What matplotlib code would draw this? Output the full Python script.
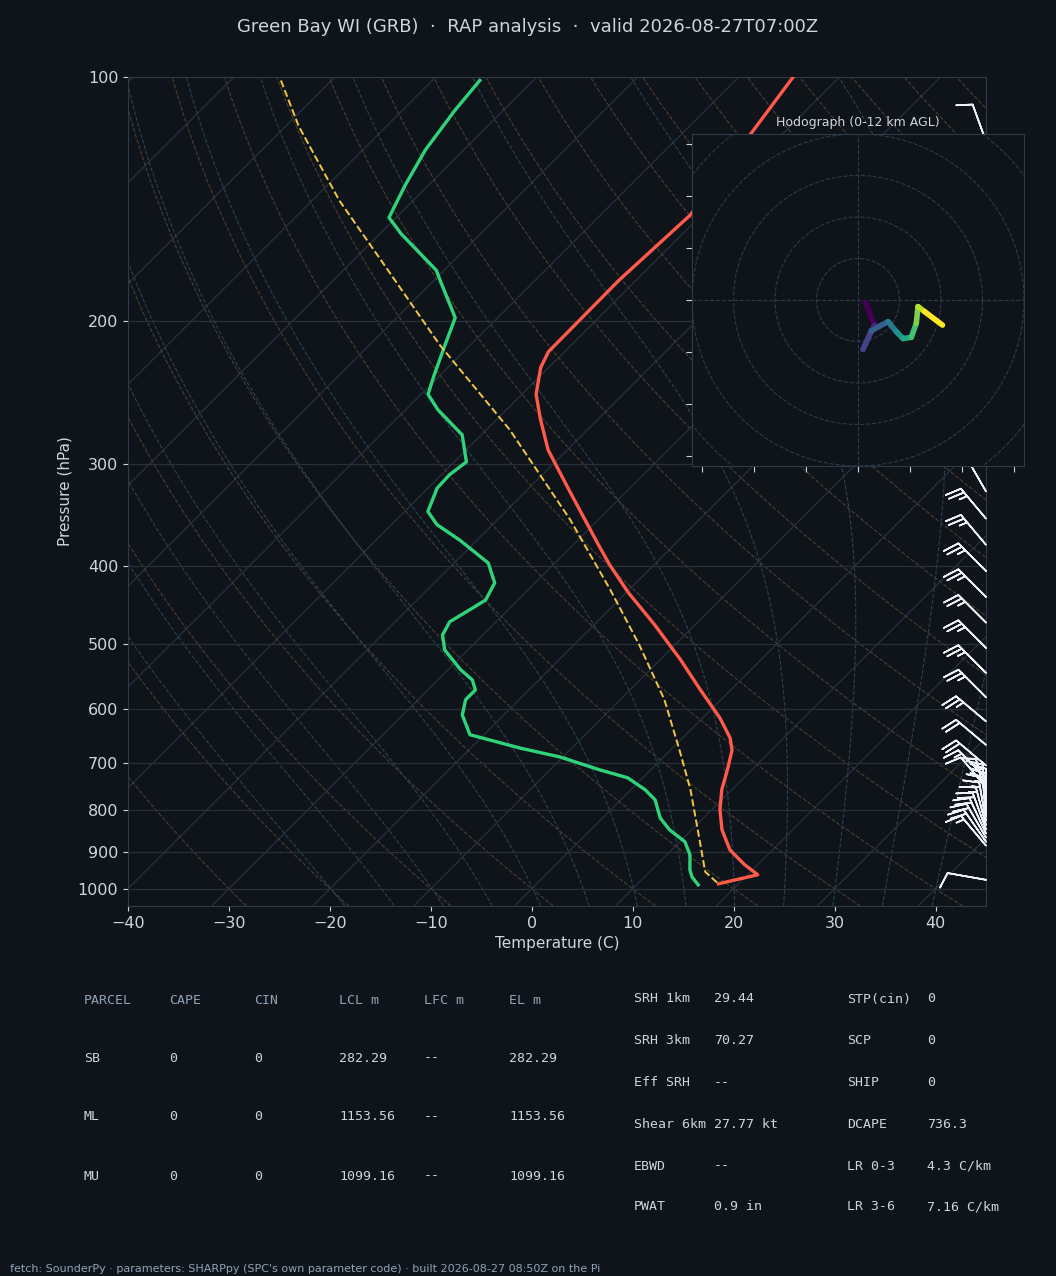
import numpy as np
import matplotlib.pyplot as plt
from matplotlib.collections import LineCollection
from matplotlib.ticker import FixedLocator, NullFormatter, NullLocator

BG = "#0f141a"
FG = "#d0d5dc"
MUTED = "#8fa3b8"
SKEW = 80.5  # deg C shift per decade of pressure

# sounding (pressure hPa, temperature C)
p_t = [100, 148, 178, 218, 228, 246, 264, 288, 323, 377, 399, 431, 473, 522, 569,
       616, 652, 675, 714, 755, 799, 846, 896, 934, 961, 986]
temp = [-54.6, -51.1, -51.7, -51.6, -50.8, -48.6, -45.7, -41.9, -35.8, -27.5, -24.4,
        -19.9, -14.0, -8.0, -3.0, 1.7, 4.7, 6.1, 7.6, 9.0, 10.8, 13.0, 15.8, 18.7, 21.0, 18.0]
p_d = [101, 110, 123, 136, 149, 156, 173, 184, 198, 214, 233, 246, 257, 276, 298, 309,
       321, 343, 356, 372, 397, 420, 441, 453, 469, 487, 508, 537, 553, 569, 585, 611,
       646, 671, 688, 714, 730, 755, 777, 818, 846, 875, 908, 948, 967, 989]
dewp = [-85.3, -84.8, -83.8, -82.3, -80.7, -77.9, -70.8, -67.8, -64.2, -62.5, -60.6,
        -59.3, -56.8, -51.9, -48.8, -49.2, -49.1, -47.7, -45.5, -41.7, -36.6, -34.0,
        -33.2, -33.8, -34.6, -34.0, -32.3, -28.8, -26.6, -25.3, -25.3, -24.1, -21.4,
        -15.1, -10.3, -5.0, -1.5, 1.4, 3.4, 5.7, 7.8, 10.5, 12.3, 13.8, 14.7, 16.1]
p_parcel = [101, 115, 142, 175, 214, 272, 351, 428, 501, 585, 675, 755, 871, 953, 986]
t_parcel = [-105.0, -98.7, -87.3, -74.9, -63.0, -47.7, -32.8, -21.9, -13.5, -5.6,
            0.9, 5.9, 11.8, 15.5, 18.0]

# wind barbs (pressure, direction from, speed kt)
p_wind = [120, 300, 324, 350, 377, 406, 437, 470, 505, 542, 581, 622, 665, 705,
          730, 750, 770, 785, 795, 805, 815, 825, 835, 845, 855, 865, 875, 885, 975]
wdir = [340, 330, 330, 320, 320, 315, 315, 315, 315, 315, 315, 310, 310, 310,
        315, 320, 345, 355, 360, 360, 355, 350, 345, 340, 335, 330, 325, 320, 280]
wspd = [10, 20, 20, 25, 25, 25, 25, 25, 25, 25, 25, 25, 20, 20,
        15, 10, 10, 15, 20, 20, 15, 15, 15, 20, 20, 20, 20, 15, 10]

# hodograph (u, v kt)
hodo_u = [3.5, 8.0, 2.4, 6.4, 14.5, 18.5, 21.7, 25.7, 28.1, 28.9, 32.1, 40.7]
hodo_v = [-1.1, -12.1, -23.8, -14.8, -10.4, -15.3, -18.6, -18.0, -11.2, -3.2, -5.6, -12.1]

# parameter table
parcel_head = ["PARCEL", "CAPE", "CIN", "LCL m", "LFC m", "EL m"]
parcel_rows = [["SB", "0", "0", "282.29", "--", "282.29"],
               ["ML", "0", "0", "1153.56", "--", "1153.56"],
               ["MU", "0", "0", "1099.16", "--", "1099.16"]]
param_a = [("SRH 1km", "29.44"), ("SRH 3km", "70.27"), ("Eff SRH", "--"),
           ("Shear 6km", "27.77 kt"), ("EBWD", "--"), ("PWAT", "0.9 in")]
param_b = [("STP(cin)", "0"), ("SCP", "0"), ("SHIP", "0"),
           ("DCAPE", "736.3"), ("LR 0-3", "4.3 C/km"), ("LR 3-6", "7.16 C/km")]


def sk(t, p):
    return np.asarray(t) + SKEW * np.log10(1000.0 / np.asarray(p))


def moist_adiabat(t0, pres):
    # pseudo-adiabat integrated from 1000 hPa
    out = [t0]
    t = t0 + 273.15
    for i in range(1, len(pres)):
        p = pres[i - 1]
        es = 6.112 * np.exp(17.67 * (t - 273.15) / (t - 29.65))
        rs = 0.622 * es / (p - es)
        lv = 2.5e6
        num = 287.0 * t + lv * rs
        den = 1004.0 + lv * lv * rs * 0.622 / (287.0 * t * t)
        t += num / den / p * (pres[i] - p)
        out.append(t - 273.15)
    return np.array(out)


fig = plt.figure(figsize=(10.56, 12.76), dpi=100, facecolor=BG)
ax = fig.add_axes([0.1212, 0.29, 0.8125, 0.6497], facecolor=BG)
ax.set_yscale("log")
ax.set_ylim(1050, 100)
ax.set_xlim(-40, 45)

pp = np.logspace(np.log10(1050), 2, 120)
for t0 in range(-120, 60, 10):
    ax.plot(sk(np.full_like(pp, t0), pp), pp, color="#2a3440", lw=0.8, zorder=1)
for th in range(-30, 200, 10):
    tt = (th + 273.15) * (pp / 1000.0) ** 0.2857 - 273.15
    ax.plot(sk(tt, pp), pp, color="#4a3f2e", lw=0.8, ls="--", zorder=1)
pm = np.linspace(1050, 100, 200)
for t0 in range(-20, 45, 5):
    tm = moist_adiabat(t0, np.concatenate([[1000.0], pm]))[1:]
    ax.plot(sk(tm, pm), pm, color="#28444c", lw=0.8, ls="--", zorder=1)
for p0 in [100, 200, 300, 400, 500, 600, 700, 800, 900, 1000]:
    ax.axhline(p0, color="#27303b", lw=0.9, zorder=1)

ax.plot(sk(temp, p_t), p_t, color="#ff5a4a", lw=2.4, zorder=4)
ax.plot(sk(dewp, p_d), p_d, color="#2fd47a", lw=2.4, zorder=4)
ax.plot(sk(t_parcel, p_parcel), p_parcel, color="#f2c744", lw=1.4, ls="--", zorder=4)

wd = np.deg2rad(wdir)
ub = -np.array(wspd) * np.sin(wd)
vb = -np.array(wspd) * np.cos(wd)
ax.barbs(np.full(len(p_wind), 45.0), p_wind, ub, vb, color="#eef2f6", length=7.5,
         lw=1.2, zorder=5, clip_on=False, flip_barb=True)

ax.yaxis.set_major_locator(FixedLocator([100, 200, 300, 400, 500, 600, 700, 800, 900, 1000]))
ax.yaxis.set_major_formatter(plt.FixedFormatter(["100", "200", "300", "400", "500",
                                                  "600", "700", "800", "900", "1000"]))
ax.yaxis.set_minor_locator(NullLocator())
ax.set_xticks(range(-40, 45, 10))
ax.tick_params(colors=FG, labelsize=11.5)
for s in ax.spines.values():
    s.set_color("#2f3a48")
ax.set_xlabel("Temperature (C)", color=FG, fontsize=11)
ax.set_ylabel("Pressure (hPa)", color=FG, fontsize=11)

fig.text(0.5, 0.979, "Green Bay WI (GRB)  \u00b7  RAP analysis  \u00b7  valid 2026-08-27T07:00Z",
         ha="center", va="center", color=FG, fontsize=13)

# hodograph inset
hx = fig.add_axes([0.6553, 0.6348, 0.3144, 0.2602], facecolor=BG)
hx.set_xlim(-80, 80)
hx.set_ylim(-80, 80)
ang = np.linspace(0, 2 * np.pi, 200)
for r in [20, 40, 60, 80, 100]:
    hx.plot(r * np.cos(ang), r * np.sin(ang), color="#2f3a48", lw=0.8, ls="--")
hx.axhline(0, color="#2f3a48", lw=0.8, ls="--")
hx.axvline(0, color="#2f3a48", lw=0.8, ls="--")
pts = np.column_stack([hodo_u, hodo_v])
segs = np.stack([pts[:-1], pts[1:]], axis=1)
lc = LineCollection(segs, cmap="viridis", linewidths=4, capstyle="round")
lc.set_array(np.arange(len(segs)))
hx.add_collection(lc)
hx.set_xticks(np.arange(-75, 80, 25))
hx.set_yticks(np.arange(-75, 80, 25))
hx.xaxis.set_major_formatter(NullFormatter())
hx.yaxis.set_major_formatter(NullFormatter())
hx.tick_params(colors=FG, length=4)
for s in hx.spines.values():
    s.set_color("#2f3a48")
hx.set_title("Hodograph (0-12 km AGL)", color=FG, fontsize=9, pad=6)

# parameter table
mono = "DejaVu Sans Mono"
cols = [84, 169, 254, 339, 424, 509]
rows = [1000, 1058, 1117, 1176]
for x, h in zip(cols, parcel_head):
    fig.text(x / 1056, 1 - rows[0] / 1276, h, color=MUTED, fontsize=9.5, family=mono, va="center")
for y, row in zip(rows[1:], parcel_rows):
    for x, v in zip(cols, row):
        fig.text(x / 1056, 1 - y / 1276, v, color=FG, fontsize=9.5, family=mono, va="center")
prow = [999, 1041, 1083, 1124, 1166, 1207]
for y, (k, v) in zip(prow, param_a):
    fig.text(634 / 1056, 1 - y / 1276, k, color=FG, fontsize=9.5, family=mono, va="center")
    fig.text(714 / 1056, 1 - y / 1276, v, color=FG, fontsize=9.5, family=mono, va="center")
for y, (k, v) in zip(prow, param_b):
    fig.text(847 / 1056, 1 - y / 1276, k, color=FG, fontsize=9.5, family=mono, va="center")
    fig.text(927 / 1056, 1 - y / 1276, v, color=FG, fontsize=9.5, family=mono, va="center")

fig.text(10 / 1056, 1 - 1269 / 1276,
         "fetch: SounderPy \u00b7 parameters: SHARPpy (SPC's own parameter code) \u00b7 built 2026-08-27 08:50Z on the Pi",
         color=MUTED, fontsize=8, va="center")

fig.savefig("out.png", dpi=100, facecolor=BG)
